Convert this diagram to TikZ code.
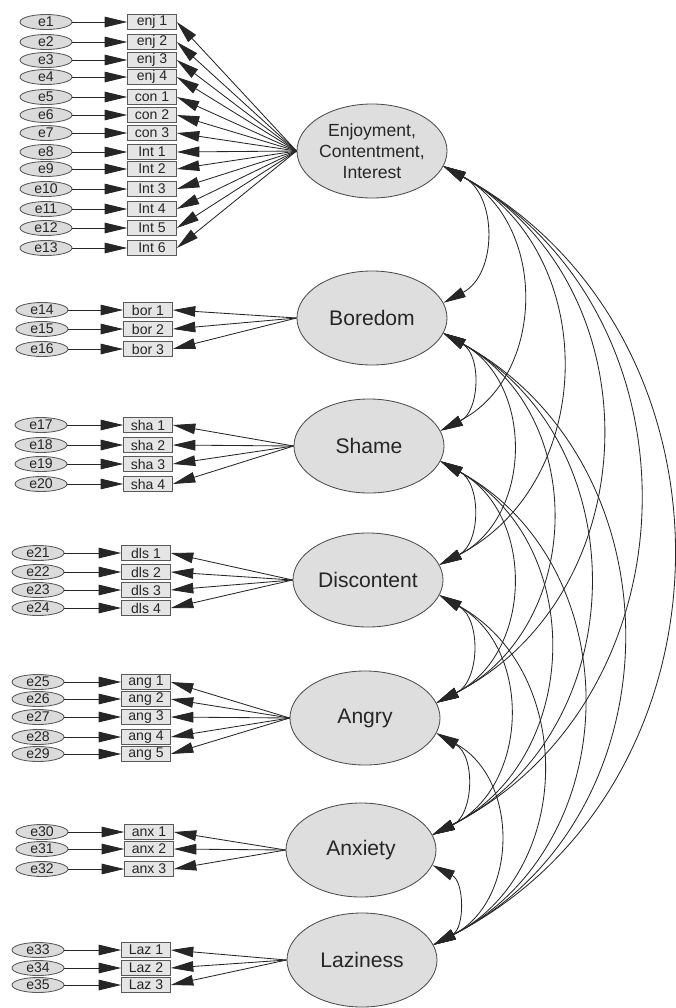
\documentclass[tikz,border=0pt]{standalone}
\usepackage{fontspec}
\setmainfont{Liberation Sans}
\usetikzlibrary{shapes.geometric,arrows.meta}

\begin{document}
\begin{tikzpicture}[x=0.025cm, y=-0.025cm]

      \tikzset{factor/.style={draw=black!70, ellipse, fill=black!13, minimum width=3.75cm, minimum height=2.35cm, inner sep=0pt, font=\fontsize{15}{18}\selectfont},
               ind/.style={draw=black!65, fill=black!10, minimum width=1.22cm, minimum height=0.375cm, inner sep=0pt, font=\fontsize{10}{11}\selectfont},
               err/.style={draw=black!65, ellipse, fill=black!14, minimum width=1.3cm, minimum height=0.375cm, inner sep=0pt, font=\fontsize{10}{11}\selectfont},
               >={Triangle[length=16pt,width=7.5pt]}, every path/.style={line width=0.6pt, black!85}}
      \useasboundingbox (0,0) rectangle (676,1008);
%% Factors
      	\node[factor, align=center, font=\fontsize{12.5}{15}\selectfont] (f1) at (372,151) {Enjoyment,\\Contentment,\\Interest};
      	\node[factor] (f2) at (372,318) {Boredom};
      	\node[factor] (f3) at (369,446) {Shame};
      	\node[factor] (f4) at (368,580) {Discontent};
      	\node[factor] (f5) at (365,718) {Angry};
      	\node[factor] (f6) at (361,850) {Anxiety};
      	\node[factor] (f7) at (362,960) {Laziness};
%% Indicators and errors
		\foreach \n/\lab/\yy in {1/enj 1/22, 2/enj 2/42, 3/enj 3/60, 4/enj 4/77, 5/con 1/97, 6/con 2/115, 7/con 3/133, 8/Int 1/152, 9/Int 2/169, 10/Int 3/189, 11/Int 4/209, 12/Int 5/228, 13/Int 6/248}{
			\node[ind] (i\n) at (152,\yy) {\lab};
			\node[err] (e\n) at (46,\yy) {e\n};
			\path [->] (e\n) edge (i\n) (f1.west) edge (i\n.east);
		}
		\foreach \n/\lab/\yy in {14/bor 1/310, 15/bor 2/329, 16/bor 3/349}{
			\node[ind] (i\n) at (148,\yy) {\lab};
			\node[err] (e\n) at (42,\yy) {e\n};
			\path [->] (e\n) edge (i\n) (f2.west) edge (i\n.east);
		}
		\foreach \n/\lab/\yy in {17/sha 1/425, 18/sha 2/445, 19/sha 3/464, 20/sha 4/484}{
			\node[ind] (i\n) at (148,\yy) {\lab};
			\node[err] (e\n) at (41,\yy) {e\n};
			\path [->] (e\n) edge (i\n) (f3.west) edge (i\n.east);
		}
		\foreach \n/\lab/\yy in {21/dls 1/553, 22/dls 2/572, 23/dls 3/590, 24/dls 4/608}{
			\node[ind] (i\n) at (146,\yy) {\lab};
			\node[err] (e\n) at (38,\yy) {e\n};
			\path [->] (e\n) edge (i\n) (f4.west) edge (i\n.east);
		}
		\foreach \n/\lab/\yy in {25/ang 1/682, 26/ang 2/699, 27/ang 3/717, 28/ang 4/737, 29/ang 5/754}{
			\node[ind] (i\n) at (146,\yy) {\lab};
			\node[err] (e\n) at (38,\yy) {e\n};
			\path [->] (e\n) edge (i\n) (f5.west) edge (i\n.east);
		}
		\foreach \n/\lab/\yy in {30/anx 1/832, 31/anx 2/849, 32/anx 3/869}{
			\node[ind] (i\n) at (149,\yy) {\lab};
			\node[err] (e\n) at (42,\yy) {e\n};
			\path [->] (e\n) edge (i\n) (f6.west) edge (i\n.east);
		}
		\foreach \n/\lab/\yy in {33/Laz 1/950, 34/Laz 2/968, 35/Laz 3/985}{
			\node[ind] (i\n) at (146,\yy) {\lab};
			\node[err] (e\n) at (38,\yy) {e\n};
			\path [->] (e\n) edge (i\n) (f7.west) edge (i\n.east);
		}
%% Covariances
		\foreach \i in {1,...,6}{
			\pgfmathtruncatemacro\nxt{\i+1}
			\foreach \j in {\nxt,...,7}
				\path [<->] (f\i.-12) edge[bend left=62, looseness=1.15] (f\j.12);
		}

\end{tikzpicture}
\end{document}
